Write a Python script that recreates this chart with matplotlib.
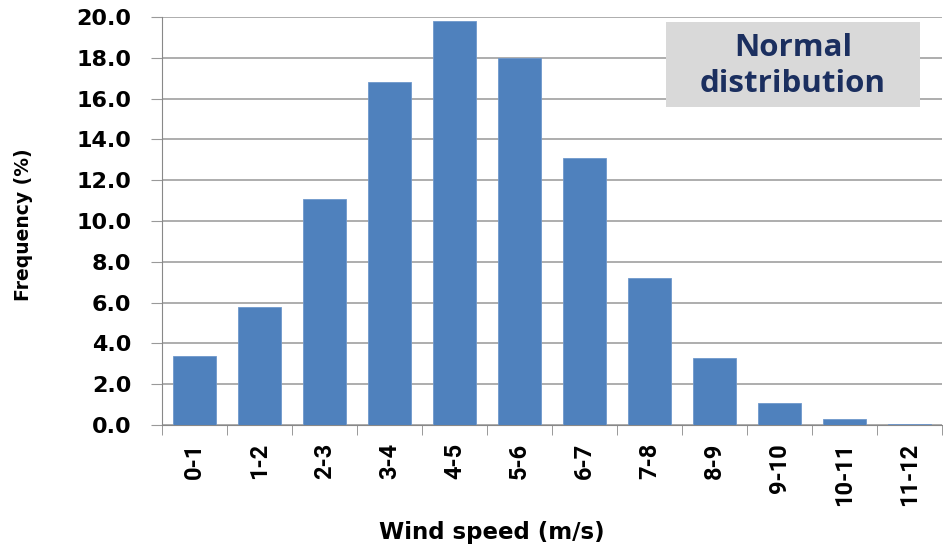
import matplotlib.pyplot as plt
import numpy as np
from matplotlib.patches import Rectangle

categories = ['0-1', '1-2', '2-3', '3-4', '4-5', '5-6', '6-7', '7-8', '8-9', '9-10', '10-11', '11-12']
frequency = [3.4, 5.8, 11.1, 16.8, 19.8, 18.0, 13.1, 7.2, 3.3, 1.1, 0.3, 0.05]

W, H = 943, 549
fig = plt.figure(figsize=(W / 100, H / 100), dpi=100)
ax = fig.add_axes([162 / W, 1 - 425 / H, 780 / W, 408 / H])

x = np.arange(len(categories))
ax.bar(x, frequency, width=0.66, color='#4F81BD', edgecolor='#6F98CC', linewidth=0.6, zorder=3)

ax.set_xlim(-0.5, len(categories) - 0.5)
ax.set_ylim(0, 20)
yt = np.arange(0, 20.1, 2)
ax.set_yticks(yt)
ax.set_yticklabels([f'{v:.1f}' for v in yt], fontsize=16, fontweight='bold', family='DejaVu Sans')
ax.set_xticks(x)
ax.set_xticklabels(categories, rotation=90, fontsize=17, fontweight='bold', family='Roboto')
ax.set_xticks(np.arange(-0.5, len(categories)), minor=True)
ax.tick_params(axis='x', which='major', length=0, pad=13)
ax.tick_params(axis='x', which='minor', length=7, color='#888888')
ax.tick_params(axis='y', length=8, color='#999999', pad=14)

ax.grid(axis='y', color='#A0A0A0', linewidth=1.2, zorder=0)
for s in ['top', 'right']:
    ax.spines[s].set_visible(False)
ax.spines['left'].set_color('#888888')
ax.spines['bottom'].set_color('#888888')

fig.text(24 / W, 1 - 225 / H, 'Frequency (%)', rotation=90, ha='center', va='center',
         fontsize=13.5, fontweight='bold', family='DejaVu Sans')
fig.text(492 / W, 1 - 533 / H, 'Wind speed (m/s)', ha='center', va='center',
         fontsize=16.5, fontweight='bold', family='DejaVu Sans')

fig.patches.append(Rectangle((666 / W, 1 - 107 / H), 254 / W, 85 / H,
                             transform=fig.transFigure, facecolor='#D9D9D9', edgecolor='none', zorder=5))
fig.text(793 / W, 1 - 66 / H, 'Normal\ndistribution', ha='center', va='center', fontsize=22.5,
         fontweight='bold', family='Open Sans', color='#1B2F5F', linespacing=1.25, zorder=6)

plt.savefig('out.png', dpi=100)
